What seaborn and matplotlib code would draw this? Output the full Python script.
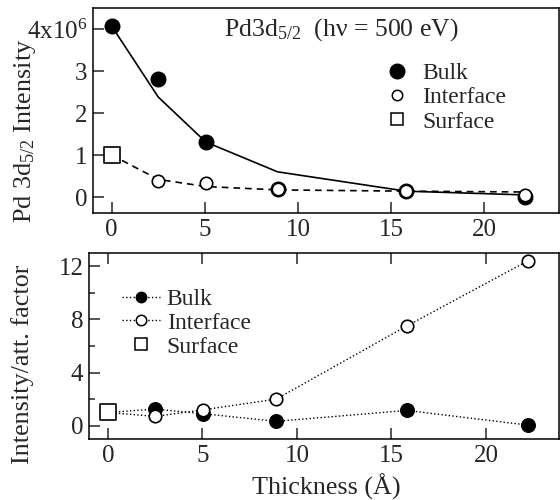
import numpy as np
import pandas as pd
import matplotlib
matplotlib.use("Agg")
import matplotlib.pyplot as plt
import seaborn as sns
from matplotlib.lines import Line2D

# ---- data ----
thickness = [0.0, 2.5, 5.05, 8.9, 15.8, 22.2]
bulk_x = [0.0, 2.5, 5.05, 8.9, 15.8, 22.2]
bulk_int = [4.07, 2.8, 1.3, 0.2, 0.15, 0.0]          # x10^6
interface_x = [2.5, 5.05, 8.9, 15.8, 22.2]
interface_int = [0.37, 0.33, 0.2, 0.15, 0.05]
surface_x = [0.0]
surface_int = [1.0]
bulk_fit = [4.07, 2.38, 1.31, 0.6, 0.14, 0.05]
surf_int_fit = [1.0, 0.42, 0.25, 0.17, 0.14, 0.12]

norm_x = [0.0, 2.5, 5.05, 8.9, 15.8, 22.2]
bulk_norm = [1.0, 1.25, 0.9, 0.33, 1.15, 0.05]
interface_norm = [1.0, 0.7, 1.2, 2.0, 7.5, 12.4]
surface_norm = [1.0]

top_yticks = [0, 1, 2, 3, 4]
top_yticklabels = ["0", "1", "2", "3", "4x10$^6$"]
xticks = [0, 5, 10, 15, 20]
bottom_yticks = [0, 4, 8, 12]

sns.set_theme(style="ticks")
plt.rcParams["font.family"] = ["Liberation Serif", "DejaVu Serif"]
plt.rcParams["mathtext.fontset"] = "custom"
plt.rcParams["mathtext.rm"] = "Liberation Serif"
plt.rcParams["mathtext.it"] = "Liberation Serif:italic"
plt.rcParams["axes.linewidth"] = 1.1

W, H = 560, 500
fig = plt.figure(figsize=(W / 100, H / 100), dpi=100)

def rect(l, r, t, b):
    return [l / W, 1 - b / H, (r - l) / W, (b - t) / H]

ax1 = fig.add_axes(rect(93, 559, 8, 213))
ax2 = fig.add_axes(rect(89, 559, 253, 439))

TICK_FS = 18
LEG_FS = 17

# ---- top panel ----
df_fit = pd.DataFrame({"x": thickness, "bulk": bulk_fit, "si": surf_int_fit})
sns.lineplot(data=df_fit, x="x", y="bulk", ax=ax1, color="black", lw=1.2, zorder=2)
sns.lineplot(data=df_fit, x="x", y="si", ax=ax1, color="black", lw=1.2,
             linestyle=(0, (4, 3)), zorder=2)
sns.scatterplot(x=bulk_x, y=bulk_int, ax=ax1, color="black", s=110,
                edgecolor="black", linewidth=1, zorder=3)
sns.scatterplot(x=interface_x, y=interface_int, ax=ax1, color="white", s=80,
                edgecolor="black", linewidth=1.2, zorder=4)
sns.scatterplot(x=surface_x, y=surface_int, ax=ax1, marker="s", color="white",
                s=130, edgecolor="black", linewidth=1.2, zorder=5)

ax1.set_xlim(-1.0, 24.0)
ax1.set_ylim(-0.38, 4.5)
ax1.set_xticks(xticks)
ax1.set_yticks(top_yticks)
ax1.set_yticklabels(top_yticklabels)
ax1.set_xlabel("")
ax1.set_ylabel("")
ax1.tick_params(direction="in", length=8, width=1.1, labelsize=TICK_FS, pad=4,
                top=False, right=False)
for s in ax1.spines.values():
    s.set_visible(True)
    s.set_linewidth(1.1)
    s.set_color("black")

ax1.text(0.532, 0.895, "Pd3d$_{5/2}$  (h\u03bd = 500 eV)", transform=ax1.transAxes,
         ha="center", va="center", fontsize=18.5)

h_top = [
    Line2D([], [], ls="none", marker="o", ms=10.5, mfc="black", mec="black"),
    Line2D([], [], ls="none", marker="o", ms=7.5, mfc="white", mec="black", mew=1.1),
    Line2D([], [], ls="none", marker="s", ms=9, mfc="white", mec="black", mew=1.1),
]
ax1.legend(h_top, ["Bulk", "Interface", "Surface"], loc="upper left",
           bbox_to_anchor=(0.628, 0.735), frameon=False, fontsize=LEG_FS,
           handlelength=1.0, handletextpad=0.55, labelspacing=0.12,
           borderaxespad=0, borderpad=0)

# ---- bottom panel ----
df_norm = pd.DataFrame({"x": norm_x, "bulk": bulk_norm, "inter": interface_norm})
sns.lineplot(data=df_norm, x="x", y="bulk", ax=ax2, color="black", lw=1.0,
             linestyle=":", marker="o", markersize=10, markerfacecolor="black",
             markeredgecolor="black", zorder=3)
sns.lineplot(data=df_norm, x="x", y="inter", ax=ax2, color="black", lw=1.0,
             linestyle=":", marker="o", markersize=9, markerfacecolor="white",
             markeredgecolor="black", markeredgewidth=1.2, zorder=4)
sns.scatterplot(x=surface_x, y=surface_norm, ax=ax2, marker="s", color="white",
                s=130, edgecolor="black", linewidth=1.2, zorder=5)

ax2.set_xlim(-1.0, 23.86)
ax2.set_ylim(-1.0, 13.0)
ax2.set_xticks(xticks)
ax2.set_yticks(bottom_yticks)
ax2.set_yticks([2, 6, 10], minor=True)
ax2.set_xlabel("")
ax2.set_ylabel("")
ax2.tick_params(which="major", direction="in", length=8, width=1.1, labelsize=TICK_FS,
                pad=4, top=True, right=False)
ax2.tick_params(which="minor", direction="in", length=4, width=1.1, left=True,
                right=False)
for s in ax2.spines.values():
    s.set_visible(True)
    s.set_linewidth(1.1)
    s.set_color("black")

h_bot = [
    Line2D([], [], ls=":", lw=1.0, color="black", marker="o", ms=7.5, mfc="black", mec="black"),
    Line2D([], [], ls=":", lw=1.0, color="black", marker="o", ms=7.5, mfc="white", mec="black", mew=1.1),
    Line2D([], [], ls="none", marker="s", ms=8.5, mfc="white", mec="black", mew=1.1),
]
ax2.legend(h_bot, ["Bulk", "Interface", "Surface"], loc="upper left",
           bbox_to_anchor=(0.07, 0.81), frameon=False, fontsize=LEG_FS,
           handlelength=1.6, handletextpad=0.3, labelspacing=0.1,
           borderaxespad=0, borderpad=0)

# ---- axis titles ----
fig.text(25 / W, 1 - 131 / H, "Pd 3d$_{5/2}$ Intensity", rotation=90,
         ha="center", va="center", fontsize=18.8)
fig.text(23 / W, 1 - 364 / H, "Intensity/att. factor", rotation=90,
         ha="center", va="center", fontsize=18.8)
fig.text(326 / W, 1 - 487 / H, "Thickness (\u00c5)", ha="center", va="center",
         fontsize=18.8)

fig.savefig("out.png", dpi=100)
